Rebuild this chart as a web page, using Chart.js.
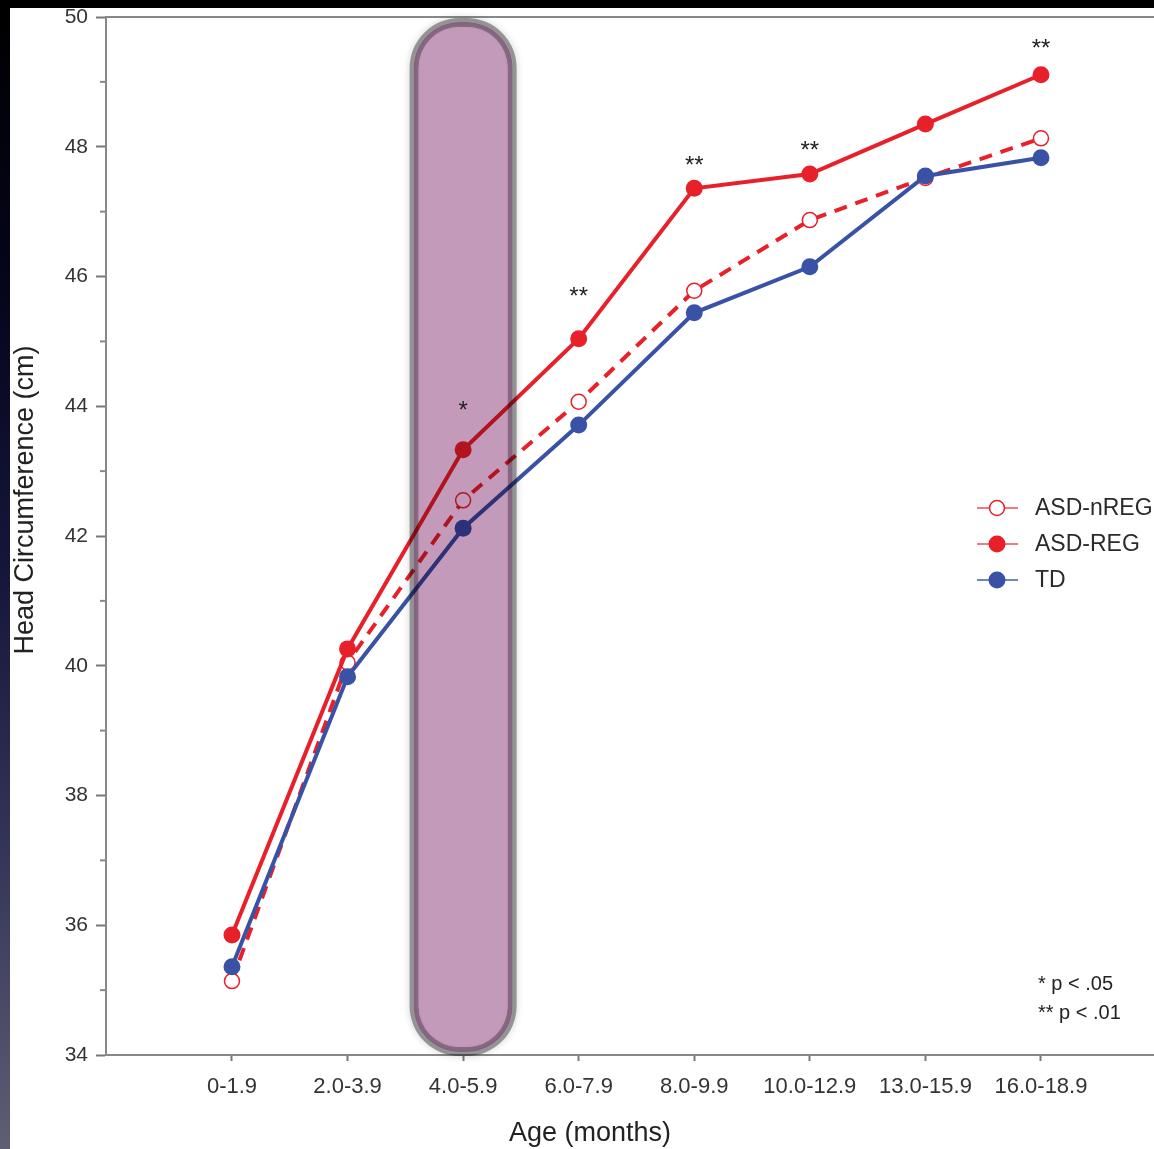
<!DOCTYPE html>
<html><head><meta charset="utf-8">
<script src="https://cdn.jsdelivr.net/npm/chart.js@4/dist/chart.umd.min.js"></script>
<style>
html,body{margin:0;padding:0;background:#000;width:1154px;height:1149px;overflow:hidden;}
#strip{position:absolute;left:0;top:0;width:10px;height:1149px;background:linear-gradient(#000 0%,#05051c 25%,#16163c 50%,#36365a 75%,#5e5e74 100%);}
#wrap{position:absolute;left:10px;top:8px;width:1144px;height:1141px;background:#fff;}
</style></head><body>
<div id="strip"></div>
<div id="wrap"><canvas id="c" width="1144" height="1141"></canvas></div>
<script>
const categories = ['0-1.9','2.0-3.9','4.0-5.9','6.0-7.9','8.0-9.9','10.0-12.9','13.0-15.9','16.0-18.9'];
const asdNReg = [35.14, 40.05, 42.55, 44.07, 45.78, 46.87, 47.52, 48.13];
const asdReg  = [35.85, 40.26, 43.33, 45.04, 47.36, 47.58, 48.35, 49.11];
const td      = [35.36, 39.83, 42.12, 43.71, 45.44, 46.15, 47.55, 47.83];
const seriesNames = ['ASD-nREG','ASD-REG','TD'];
const sigIndex  = [2, 3, 4, 5, 7];
const sigLabels = ['*','**','**','**','**'];
const sigY      = [44.02, 45.78, 47.80, 48.03, 49.61];
const highlightIndex = 2;
const footnotes = ['* p < .05','** p < .01'];
const yTitle = 'Head Circumference (cm)';
const xTitle = 'Age (months)';

const FONT = '"Liberation Sans", Arial, Helvetica, sans-serif';
const RED = '#e8202a', BLUE = '#3a52a6';
const toPts = arr => arr.map((v,i)=>({x:i,y:v}));

function rrPath(ctx,x,y,w,h,r){
  ctx.moveTo(x+r,y);
  ctx.lineTo(x+w-r,y); ctx.arcTo(x+w,y,x+w,y+r,r);
  ctx.lineTo(x+w,y+h-r); ctx.arcTo(x+w,y+h,x+w-r,y+h,r);
  ctx.lineTo(x+r,y+h); ctx.arcTo(x,y+h,x,y+h-r,r);
  ctx.lineTo(x,y+r); ctx.arcTo(x,y,x+r,y,r);
  ctx.closePath();
}

const highlight = {
  id:'highlight',
  afterDatasetsDraw(chart){
    const {ctx, chartArea:a, scales:{x}} = chart;
    const step = x.getPixelForValue(1)-x.getPixelForValue(0);
    const cx = x.getPixelForValue(highlightIndex);
    const hw = step*0.463;
    const top = a.top+1, bot = a.bottom+1;
    ctx.save();
    ctx.globalCompositeOperation='multiply';
    ctx.shadowColor='rgba(0,0,0,0.22)'; ctx.shadowBlur=7;
    ctx.beginPath();
    rrPath(ctx,cx-hw,top,hw*2,bot-top,50);
    rrPath(ctx,cx-hw+4,top+4,hw*2-8,bot-top-8,46);
    ctx.fillStyle='#a2a2a2'; ctx.fill('evenodd');
    ctx.shadowBlur=0; ctx.shadowColor='transparent';
    ctx.beginPath();
    rrPath(ctx,cx-hw+4,top+4,hw*2-8,bot-top-8,46);
    rrPath(ctx,cx-hw+9,top+9,hw*2-18,bot-top-18,41);
    ctx.fillStyle='#8c6a87'; ctx.fill('evenodd');
    ctx.beginPath();
    rrPath(ctx,cx-hw+9,top+9,hw*2-18,bot-top-18,41);
    ctx.fillStyle='#c39ab9'; ctx.fill();
    ctx.restore();
  },
  afterDraw(chart){
    const {ctx, chartArea:a, scales:{x,y}} = chart;
    ctx.save();
    ctx.fillStyle='#222'; ctx.font='24px '+FONT; ctx.textAlign='center'; ctx.textBaseline='alphabetic';
    sigIndex.forEach((idx,k)=>{
      ctx.fillText(sigLabels[k], x.getPixelForValue(idx), y.getPixelForValue(sigY[k])+13.5);
    });
    const ds = chart.data.datasets;
    const lx = 967, mx = 987, tx = 1025, ly = [500,536,572];
    const lineCols = ['#f07a80','#f07a80','#7184c4'];
    ds.forEach((d,i)=>{
      ctx.strokeStyle=lineCols[i]; ctx.lineWidth=2;
      ctx.beginPath(); ctx.moveTo(lx, ly[i]); ctx.lineTo(lx+41, ly[i]); ctx.stroke();
      ctx.beginPath(); ctx.arc(mx, ly[i], i===0?7.5:8.5, 0, Math.PI*2);
      ctx.fillStyle=d.pointBackgroundColor; ctx.fill();
      if(i===0){ ctx.strokeStyle=RED; ctx.lineWidth=1.5; ctx.stroke(); }
      ctx.fillStyle='#2a2a2a'; ctx.font='23px '+FONT; ctx.textAlign='left'; ctx.textBaseline='middle';
      ctx.fillText(d.label, tx, ly[i]+1);
    });
    ctx.font='20px '+FONT; ctx.fillStyle='#222'; ctx.textAlign='left'; ctx.textBaseline='middle';
    ctx.fillText(footnotes[0], 1028, 976);
    ctx.fillText(footnotes[1], 1028, 1005);
    ctx.font='27px '+FONT; ctx.fillStyle='#222'; ctx.textAlign='center'; ctx.textBaseline='middle';
    ctx.fillText(xTitle, 580, 1126);
    ctx.translate(16, 492); ctx.rotate(-Math.PI/2);
    ctx.fillText(yTitle, 0, 0);
    ctx.restore();
  }
};
const axisTop = {
  id:'axisTop',
  beforeDatasetsDraw(chart){
    const {ctx, chartArea:a, scales:{y}} = chart;
    ctx.save();
    ctx.strokeStyle='#888'; ctx.lineWidth=2;
    ctx.beginPath(); ctx.moveTo(a.left, a.top); ctx.lineTo(a.right, a.top); ctx.stroke();
    for(let v=35; v<50; v+=2){
      const py = y.getPixelForValue(v);
      ctx.beginPath(); ctx.moveTo(a.left-6, py); ctx.lineTo(a.left, py); ctx.stroke();
    }
    ctx.restore();
  }
};

Chart.defaults.font.family = FONT;
new Chart(document.getElementById('c'), {
  type:'line',
  data:{
    datasets:[
      {label:seriesNames[0], data:toPts(asdNReg), borderColor:RED, borderWidth:4, borderDash:[13,9],
       pointRadius:7.5, pointBackgroundColor:'#ffffff', pointBorderColor:RED, pointBorderWidth:1.5, order:3, tension:0},
      {label:seriesNames[1], data:toPts(asdReg), borderColor:RED, borderWidth:4,
       pointRadius:8.5, pointBackgroundColor:RED, pointBorderColor:RED, pointBorderWidth:0, order:2, tension:0},
      {label:seriesNames[2], data:toPts(td), borderColor:BLUE, borderWidth:4,
       pointRadius:8.5, pointBackgroundColor:BLUE, pointBorderColor:BLUE, pointBorderWidth:0, order:1, tension:0}
    ]
  },
  options:{
    responsive:false, animation:false, devicePixelRatio:1,
    layout:{autoPadding:false, padding:{top:9,left:0,right:0,bottom:0}},
    plugins:{legend:{display:false}, tooltip:{enabled:false}},
    scales:{
      x:{type:'linear', min:-1.09, max:7.978,
        afterBuildTicks:s=>{ s.ticks = categories.map((c,i)=>({value:i})); },
        afterFit:s=>{ s.height = 94; s.paddingLeft=0; s.paddingRight=0; s.paddingTop=0; s.paddingBottom=0; },
        ticks:{autoSkip:false, maxRotation:0, padding:13, color:'#333', font:{size:22},
          callback:v=>categories[v]},
        grid:{drawOnChartArea:false, tickLength:6, tickColor:'#777', tickWidth:2},
        border:{color:'#888', width:2}
      },
      y:{min:34, max:50,
        afterBuildTicks:s=>{ const t=[]; for(let v=34; v<=50; v+=2) t.push({value:v}); s.ticks=t; },
        afterFit:s=>{ s.width = 96; s.paddingTop=0; s.paddingBottom=0; s.paddingLeft=0; s.paddingRight=0; },
        ticks:{padding:8, color:'#333', font:{size:21}, callback:v=>v},
        grid:{drawOnChartArea:false, tickLength:10, tickColor:'#777', tickWidth:2},
        border:{color:'#888', width:2}
      }
    }
  },
  plugins:[axisTop, highlight]
});
</script>
</body></html>
